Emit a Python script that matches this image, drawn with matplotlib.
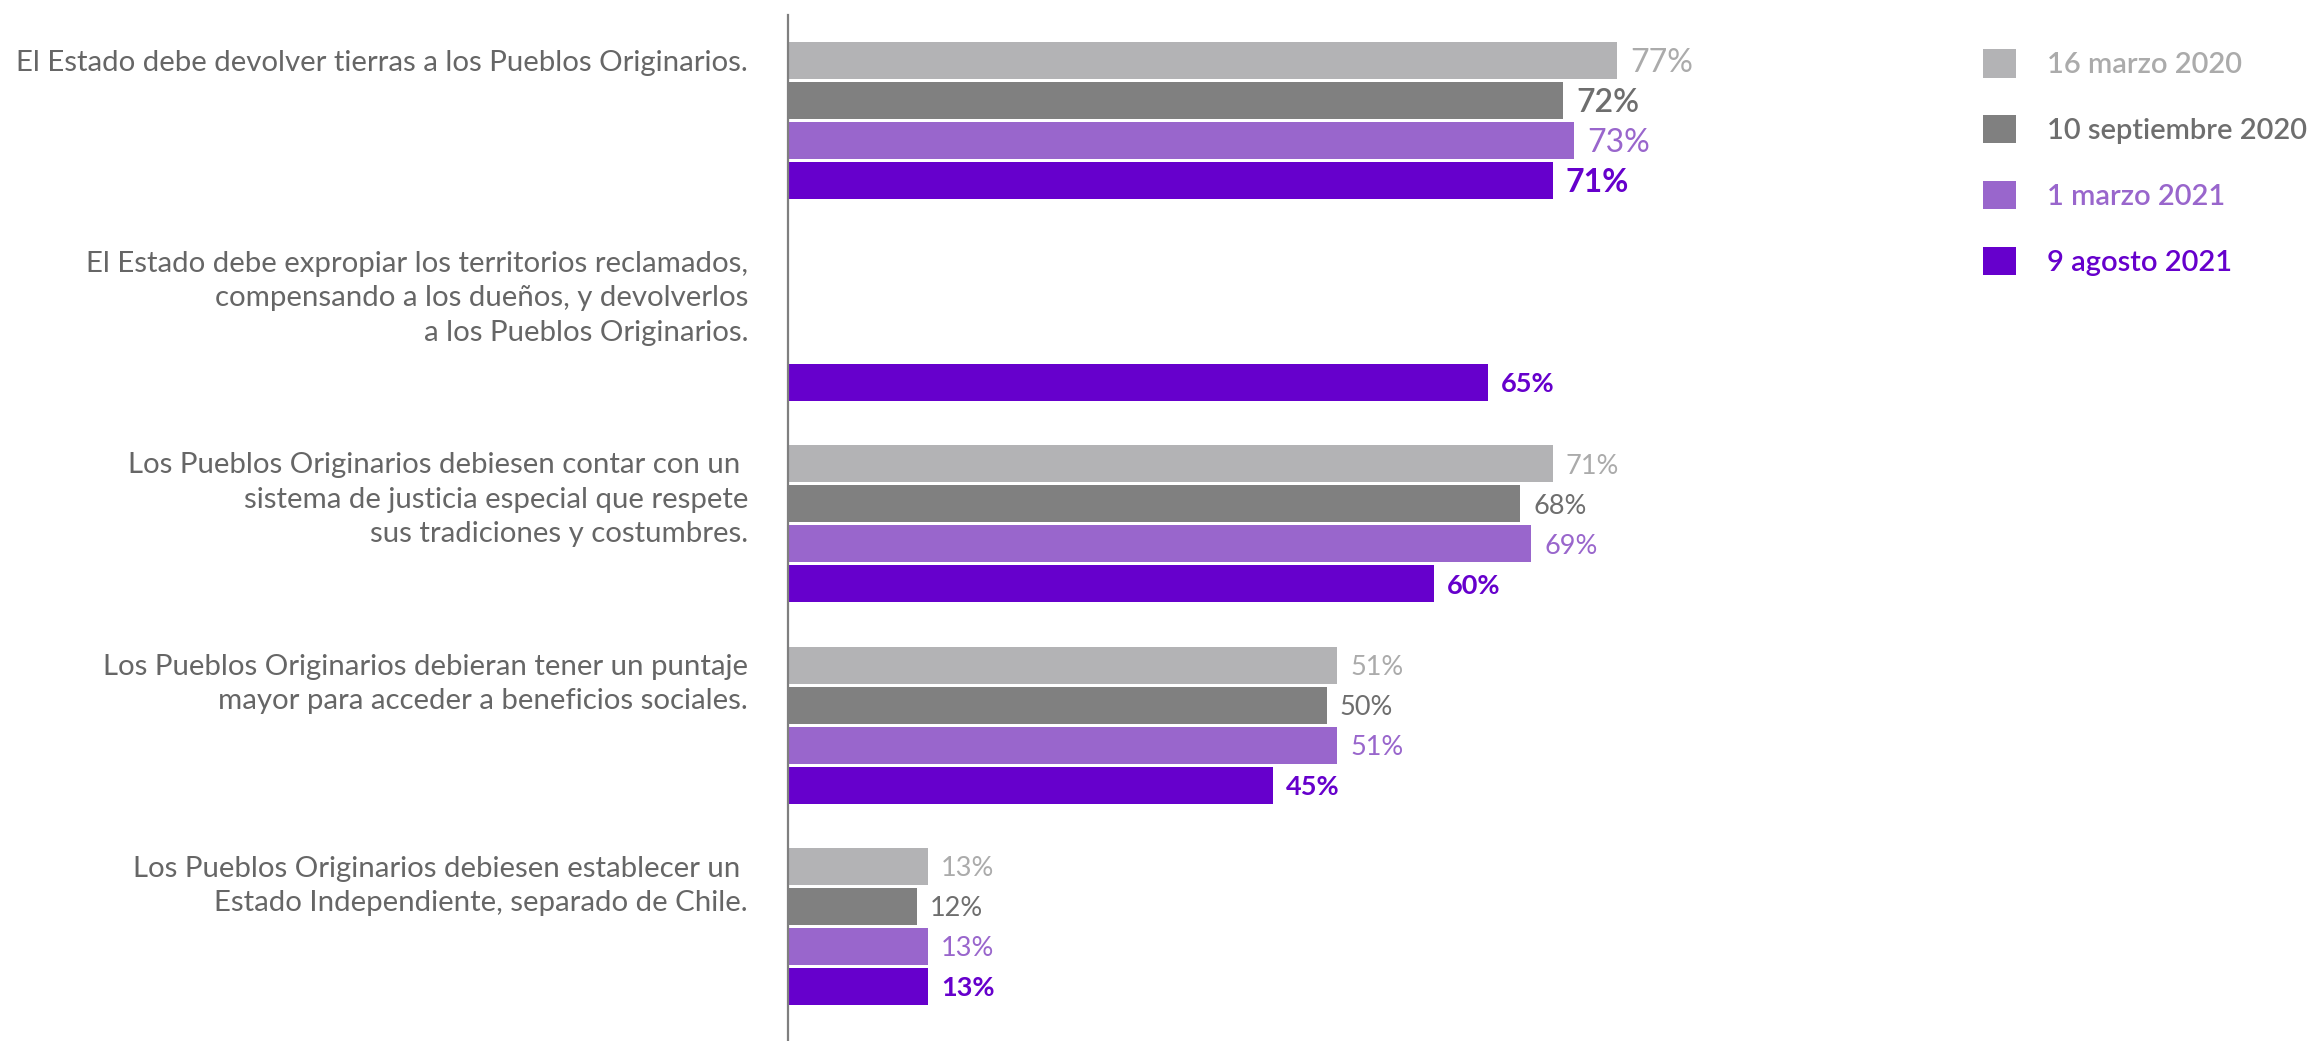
import numpy as np
import matplotlib
matplotlib.use("Agg")
import matplotlib.pyplot as plt
from matplotlib.patches import Patch

plt.rcParams['font.family'] = ['Lato', 'DejaVu Sans']

categories = [
    "El Estado debe devolver tierras a los Pueblos Originarios.",
    "El Estado debe expropiar los territorios reclamados,\ncompensando a los dueños, y devolverlos\na los Pueblos Originarios.",
    "Los Pueblos Originarios debiesen contar con un \nsistema de justicia especial que respete\nsus tradiciones y costumbres.",
    "Los Pueblos Originarios debieran tener un puntaje\nmayor para acceder a beneficios sociales.",
    "Los Pueblos Originarios debiesen establecer un \nEstado Independiente, separado de Chile.",
]
series_names = ["16 marzo 2020", "10 septiembre 2020", "1 marzo 2021", "9 agosto 2021"]
marzo_2020 = [77, np.nan, 71, 51, 13]
septiembre_2020 = [72, np.nan, 68, 50, 12]
marzo_2021 = [73, np.nan, 69, 51, 13]
agosto_2021 = [71, 65, 60, 45, 13]
series_values = [marzo_2020, septiembre_2020, marzo_2021, agosto_2021]

bar_colors = ["#B3B3B5", "#808080", "#9966CC", "#6600CC"]
label_colors = ["#ABABAB", "#6E6E6E", "#9966CC", "#6600CC"]
label_weights = ["normal", "normal", "normal", "bold"]

W, H = 2318, 1041
fig = plt.figure(figsize=(W / 100, H / 100), dpi=100)
ax_left, ax_right = 788, 788 + 1077
ax_top = 15
ax = fig.add_axes([ax_left / W, 0, (ax_right - ax_left) / W, (H - ax_top) / H])

pitch_px = 201.5
first_center = 120.5
slot = 40 / pitch_px
bar_h = 37 / pitch_px
ax.set_xlim(0, 100)
ax.set_ylim((H - first_center) / pitch_px, (ax_top - first_center) / pitch_px)

groups = np.arange(len(categories))
for k, vals in enumerate(series_values):
    vals = np.array(vals, dtype=float)
    ypos = groups + (k - 1.5) * slot
    mask = ~np.isnan(vals)
    ax.barh(ypos[mask], vals[mask], height=bar_h, color=bar_colors[k], label=series_names[k])
    for g in groups[mask]:
        size = 23 if g == 0 else 19.5
        w = label_weights[k]
        if g == 0 and k == 1:
            w = "semibold"
        ax.annotate(f"{int(vals[g])}%", xy=(vals[g], ypos[g]), xytext=(13, 0),
                    textcoords="offset pixels", va="center_baseline", ha="left",
                    fontsize=size, color=label_colors[k], fontweight=w)

for g, cat in enumerate(categories):
    ax.annotate(cat, xy=(0, g - 1.5 * slot), xytext=(-40, 11), textcoords="offset pixels",
                ha="right", va="top", fontsize=21.2, color="#666666",
                linespacing=1.40, multialignment="right")

for s in ["top", "right", "bottom"]:
    ax.spines[s].set_visible(False)
ax.spines["left"].set_color("#7F7F7F")
ax.spines["left"].set_linewidth(1.6)
ax.set_xticks([])
ax.set_yticks([])

handles = [Patch(facecolor=c, edgecolor="none") for c in bar_colors]
fig.legend(handles, series_names, loc="upper left", bbox_to_anchor=(1983 / W, 1 - 49 / H),
           frameon=False, handlelength=1.13, handleheight=1.13,
           handletextpad=1.06, labelspacing=1.26, borderpad=0, borderaxespad=0,
           labelcolor=label_colors, prop={"weight": "semibold", "size": 21})

fig.savefig("out.png", dpi=100)
